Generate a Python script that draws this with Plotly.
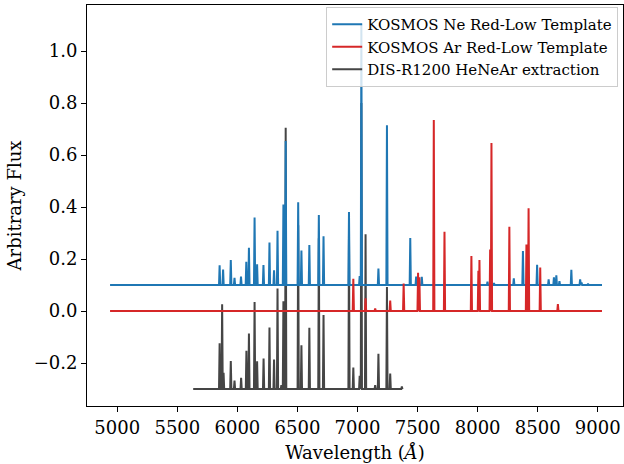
import plotly.graph_objects as go

# ---------------- data ----------------
ne_name = "KOSMOS Ne Red-Low Template"
ar_name = "KOSMOS Ar Red-Low Template"
dis_name = "DIS-R1200 HeNeAr extraction"

ne_base = 0.1
ne_span = [4940, 9035]
ne_wave = [5852, 5881, 5945, 5976, 6030, 6074, 6096, 6143, 6164, 6217, 6267, 6305,
           6334, 6383, 6402, 6506, 6533, 6599, 6678, 6717, 6929, 7018, 7032, 7174,
           7245, 7439, 7488, 7535, 8082, 8136, 8301, 8377, 8495, 8591, 8635, 8655,
           8681, 8780, 8853, 8865, 8919]
ne_peak = [0.176, 0.160, 0.196, 0.128, 0.133, 0.190, 0.243, 0.360, 0.180, 0.177, 0.264, 0.157,
           0.309, 0.410, 0.654, 0.418, 0.233, 0.254, 0.369, 0.288, 0.381, 0.135, 1.105, 0.164,
           0.715, 0.281, 0.133, 0.132, 0.113, 0.108, 0.126, 0.231, 0.178, 0.122, 0.130, 0.138,
           0.115, 0.159, 0.122, 0.110, 0.105]

ar_base = 0.0
ar_span = [4940, 9035]
ar_wave = [6965, 7067, 7147, 7272, 7384, 7504, 7515, 7635, 7724, 7948, 8006, 8015,
           8104, 8115, 8264, 8406, 8424, 8521, 8668]
ar_peak = [0.124, 0.049, 0.010, 0.040, 0.106, 0.147, 0.130, 0.735, 0.305, 0.212, 0.155, 0.196,
           0.237, 0.646, 0.324, 0.256, 0.395, 0.168, 0.027]

dis_base = -0.3
dis_span = [5632, 7374]
dis_wave = [5852, 5873, 5885, 5945, 5976, 6031, 6075, 6096, 6143, 6164, 6218, 6267,
            6305, 6334, 6366, 6383, 6402, 6506, 6533, 6599, 6678, 6717, 6929, 6965,
            7018, 7032, 7067, 7147, 7174, 7245, 7272, 7369]
dis_peak = [-0.124, 0.026, -0.237, -0.192, -0.267, -0.257, -0.153, -0.086, 0.035, -0.193, -0.182, -0.063,
            -0.186, 0.087, -0.285, 0.038, 0.705, 0.33, -0.131, -0.064, 0.28, -0.015, 0.29, -0.217,
            -0.249, 0.80, 0.295, -0.285, -0.164, 0.093, -0.240, -0.290]

x_ticks = [5000, 5500, 6000, 6500, 7000, 7500, 8000, 8500, 9000]
y_ticks = [-0.2, 0.0, 0.2, 0.4, 0.6, 0.8, 1.0]
y_tick_text = ["\u22120.2", "0.0", "0.2", "0.4", "0.6", "0.8", "1.0"]


def spectrum(base, span, waves, peaks, hw=5):
    xs, ys = [span[0]], [base]
    for w, p in sorted(zip(waves, peaks)):
        xs += [w - hw, w, w + hw]
        ys += [base, p, base]
    xs.append(span[1])
    ys.append(base)
    return xs, ys


FONT = "DejaVu Serif"
FS = 18
LFS = 15
fig = go.Figure()

specs = [
    (dis_name, dis_base, dis_span, dis_wave, dis_peak, "#454545", 3),
    (ne_name, ne_base, ne_span, ne_wave, ne_peak, "#1f77b4", 1),
    (ar_name, ar_base, ar_span, ar_wave, ar_peak, "#d62728", 2),
]
for name, base, span, wv, pk, col, rank in specs:
    xs, ys = spectrum(base, span, wv, pk)
    fig.add_trace(go.Scatter(x=xs, y=ys, mode="lines", name=name,
                             line=dict(color=col, width=2),
                             legendrank=rank, legendgroup=name))

axis_common = dict(showline=True, mirror=True, linecolor="black", linewidth=1,
                   ticks="outside", ticklen=5, tickwidth=1, tickcolor="black",
                   showgrid=False, zeroline=False,
                   tickfont=dict(family=FONT, size=FS, color="black"))

fig.update_layout(
    width=624, height=464,
    margin=dict(l=87, r=1, t=5, b=58),
    plot_bgcolor="white", paper_bgcolor="white",
    font=dict(family=FONT, size=FS, color="black"),
    xaxis=dict(range=[4748, 9210], tickvals=x_ticks,
               title=dict(text="Wavelength (<i>Å</i>)", font=dict(family=FONT, size=FS), standoff=9),
               **axis_common),
    yaxis=dict(range=[-0.365, 1.177], tickvals=y_ticks, ticktext=y_tick_text,
               title=dict(text="Arbitrary Flux", font=dict(family=FONT, size=FS), standoff=7),
               **axis_common),
    legend=dict(x=0.991, y=0.995, xanchor="right", yanchor="top",
                bgcolor="rgba(255,255,255,0.8)", bordercolor="#cccccc", borderwidth=1,
                font=dict(family=FONT, size=LFS, color="black"),
                tracegroupgap=2, traceorder="normal"),
    showlegend=True,
)

fig.write_html("out.html")
